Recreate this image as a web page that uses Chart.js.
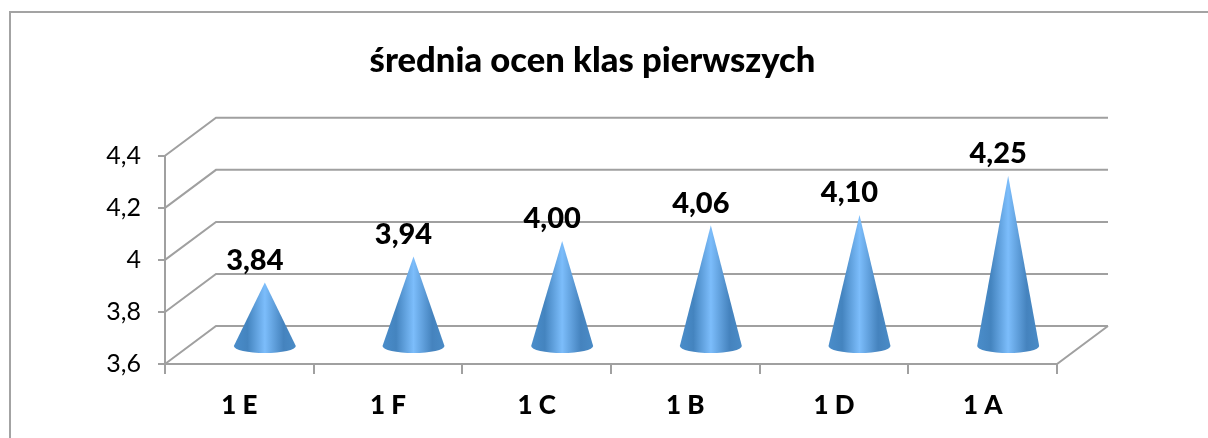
<!DOCTYPE html>
<html>
<head>
<meta charset="utf-8">
<title>średnia ocen klas pierwszych</title>
<script src="https://cdn.jsdelivr.net/npm/chart.js@4"></script>
<style>
    html, body { margin: 0; padding: 0; background: #fff; overflow: hidden; }
    #wrap { position: relative; width: 1208px; height: 438px; }
    #frame { position: absolute; left: 9px; top: 11px; right: 0; bottom: 0; border-left: 2px solid #a3a3a3; border-top: 2px solid #a3a3a3; }
    #chart { position: absolute; left: 0; top: 0; }
</style>
</head>
<body>
<div id="wrap">
    <div id="frame"></div>
    <canvas id="chart" width="1208" height="438"></canvas>
</div>
<script>
const chartTitle = 'średnia ocen klas pierwszych';
const categories = ['1 E', '1 F', '1 C', '1 B', '1 D', '1 A'];
const averages = [3.84, 3.94, 4.00, 4.06, 4.10, 4.25];
const axisMin = 3.6;
const axisMax = 4.4;
const axisStep = 0.2;

// depth of the fake 3d box, back wall relative to the front axes
const DEPTH_X = 51;
const DEPTH_Y = -38;
const GRID_COLOR = '#a0a0a0';
const FONT = 'Lato, Carlito, sans-serif';

const comma = (v, digits) => v.toFixed(digits).replace('.', ',');

const box3d = {
    id: 'box3d',
    afterLayout(chart) {
        // title sits a bit right of the padded chart box centre
        chart.titleBlock.left += 14;
        chart.titleBlock.right += 14;
    },
    beforeDatasetsDraw(chart) {
        const { ctx, chartArea: a, scales: { y } } = chart;
        ctx.save();
        ctx.strokeStyle = GRID_COLOR;
        ctx.lineWidth = 2;
        ctx.beginPath();
        y.ticks.forEach(t => {
            const py = y.getPixelForValue(t.value);
            ctx.moveTo(a.left, py);
            ctx.lineTo(a.left + DEPTH_X, py + DEPTH_Y);
            ctx.lineTo(a.right + DEPTH_X, py + DEPTH_Y);
        });
        // floor
        ctx.moveTo(a.left, a.bottom);
        ctx.lineTo(a.right, a.bottom);
        ctx.lineTo(a.right + DEPTH_X, a.bottom + DEPTH_Y);
        ctx.stroke();
        ctx.restore();
    }
};

const cones = {
    id: 'cones',
    afterDatasetsDraw(chart) {
        const { ctx, scales: { y } } = chart;
        const baseY = y.getPixelForValue(axisMin) + DEPTH_Y / 2 + 1;
        chart.getDatasetMeta(0).data.forEach((bar, i) => {
            const cx = bar.x + DEPTH_X / 2;
            const tipY = bar.y + DEPTH_Y / 2;
            const r = bar.width / 2;

            const grad = ctx.createLinearGradient(cx - r, 0, cx + r, 0);
            grad.addColorStop(0, '#4a8dca');
            grad.addColorStop(0.22, '#4484bf');
            grad.addColorStop(0.5, '#7cbdfb');
            grad.addColorStop(0.8, '#4583be');
            grad.addColorStop(1, '#4a8bc6');

            ctx.save();
            ctx.fillStyle = grad;
            ctx.beginPath();
            ctx.moveTo(cx, tipY);
            ctx.lineTo(cx + r, baseY);
            ctx.ellipse(cx, baseY, r, 7, 0, 0, Math.PI);
            ctx.closePath();
            ctx.fill();

            ctx.fillStyle = '#000';
            ctx.font = '900 29px ' + FONT;
            ctx.textAlign = 'center';
            ctx.textBaseline = 'middle';
            ctx.fillText(comma(averages[i], 2), cx - 10, tipY - 22);
            ctx.restore();
        });
    }
};

new Chart(document.getElementById('chart').getContext('2d'), {
    type: 'bar',
    data: {
        labels: categories,
        datasets: [{
            data: averages,
            backgroundColor: 'transparent',
            barPercentage: 0.417,
            categoryPercentage: 1
        }]
    },
    options: {
        responsive: false,
        animation: false,
        layout: { padding: { left: 100, right: 151, top: 40 } },
        plugins: {
            legend: { display: false },
            tooltip: { enabled: false },
            title: {
                display: true,
                text: chartTitle,
                color: '#000',
                font: { family: FONT, size: 34.6, weight: '900' },
                padding: { top: 0, bottom: 74.3 }
            }
        },
        scales: {
            x: {
                afterFit(scale) { scale.height = 74; },
                border: { color: GRID_COLOR, width: 2 },
                grid: { drawOnChartArea: false, color: GRID_COLOR, lineWidth: 2, tickLength: 10, offset: true },
                ticks: {
                    color: '#000',
                    padding: 16,
                    maxRotation: 0,
                    font: { family: FONT, size: 26, weight: '900' }
                }
            },
            y: {
                min: axisMin,
                max: axisMax,
                afterFit(scale) { scale.width = 65; },
                border: { color: GRID_COLOR, width: 2 },
                grid: { drawOnChartArea: false, color: GRID_COLOR, lineWidth: 2, tickLength: 7 },
                ticks: {
                    stepSize: axisStep,
                    color: '#000',
                    padding: 17,
                    font: { family: FONT, size: 25 },
                    callback: v => String(+v.toFixed(1)).replace('.', ',')
                }
            }
        }
    },
    plugins: [box3d, cones]
});
</script>
</body>
</html>
